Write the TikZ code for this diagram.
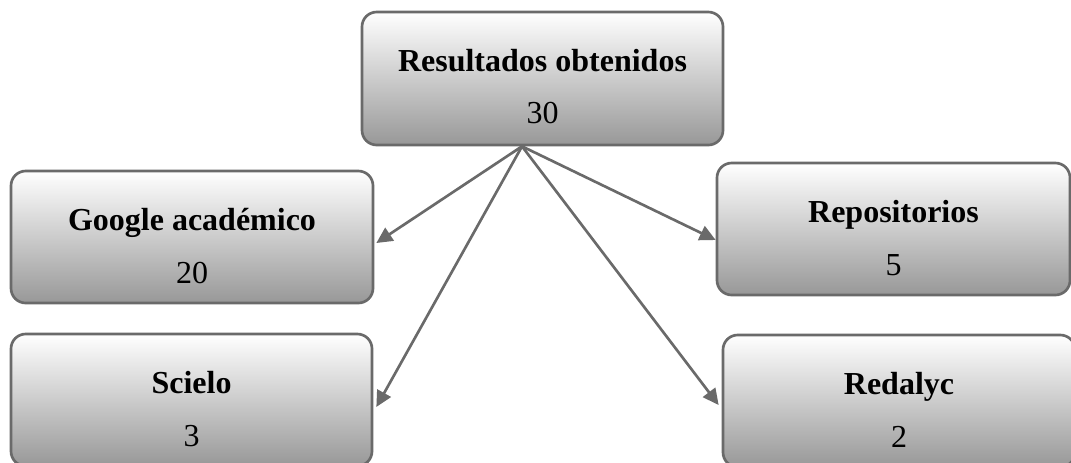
\documentclass[tikz,border=0pt]{standalone}
\usepackage{fontspec}
\setmainfont{Liberation Serif}
\usetikzlibrary{arrows.meta,calc}
\definecolor{edge}{HTML}{6A6A6A}
\definecolor{shadebot}{HTML}{989898}
\tikzset{
  box/.style={draw=edge, line width=2pt, rounded corners=11pt, top color=white, bottom color=shadebot, inner sep=0pt},
  ttl/.style={anchor=base, font=\fontsize{24}{28}\selectfont\bfseries, inner sep=0pt},
  num/.style={anchor=base, font=\fontsize{24}{28}\selectfont, inner sep=0pt},
  arr/.style={draw=edge, line width=2pt, -{Triangle[length=12pt,width=11.5pt]}},
}
\begin{document}
\begin{tikzpicture}[x=0.75pt,y=-0.75pt]
\useasboundingbox (0,0) rectangle (1071,462);
\clip (0,0) rectangle (1071,462);
% boxes
\node[box, minimum width=361*0.75pt, minimum height=133*0.75pt] (top) at (542.5,78.5) {};
\node[box, minimum width=362*0.75pt, minimum height=132*0.75pt] (g) at (192,237) {};
\node[box, minimum width=361*0.75pt, minimum height=132*0.75pt] (s) at (191.5,400) {};
\node[box, minimum width=353*0.75pt, minimum height=132*0.75pt] (r) at (893.5,229) {};
\node[box, minimum width=352*0.75pt, minimum height=132*0.75pt] (d) at (899,401) {};
% texts
\node[ttl] (topt) at ($(top.north)+(0,61)$) {Resultados obtenidos};
\node[num] (topn) at ($(top.north)+(0,113)$) {30};
\node[ttl] (gt) at ($(g.north)+(0,61)$) {Google académico};
\node[num] (gn) at ($(g.north)+(0,114)$) {20};
\node[ttl] (st) at ($(s.north)+(0,61)$) {Scielo};
\node[num] (sn) at ($(s.north)+(0,114)$) {3};
\node[ttl] (rt) at ($(r.north)+(0,61)$) {Repositorios};
\node[num] (rn) at ($(r.north)+(0,114)$) {5};
\node[ttl] (dt) at ($(d.north)+(0,61)$) {Redalyc};
\node[num] (dn) at ($(d.north)+(0,114)$) {2};
% arrows
\coordinate (src) at ($(top.south)+(-20.5,0)$);
\draw[arr] (src) -- ($(g.east)+(2,6)$);
\draw[arr] (src) -- ($(s.east)+(3,7)$);
\draw[arr] (src) -- ($(r.west)+(0,11)$);
\draw[arr] (src) -- ($(d.west)+(-3,4)$);
\end{tikzpicture}
\end{document}
